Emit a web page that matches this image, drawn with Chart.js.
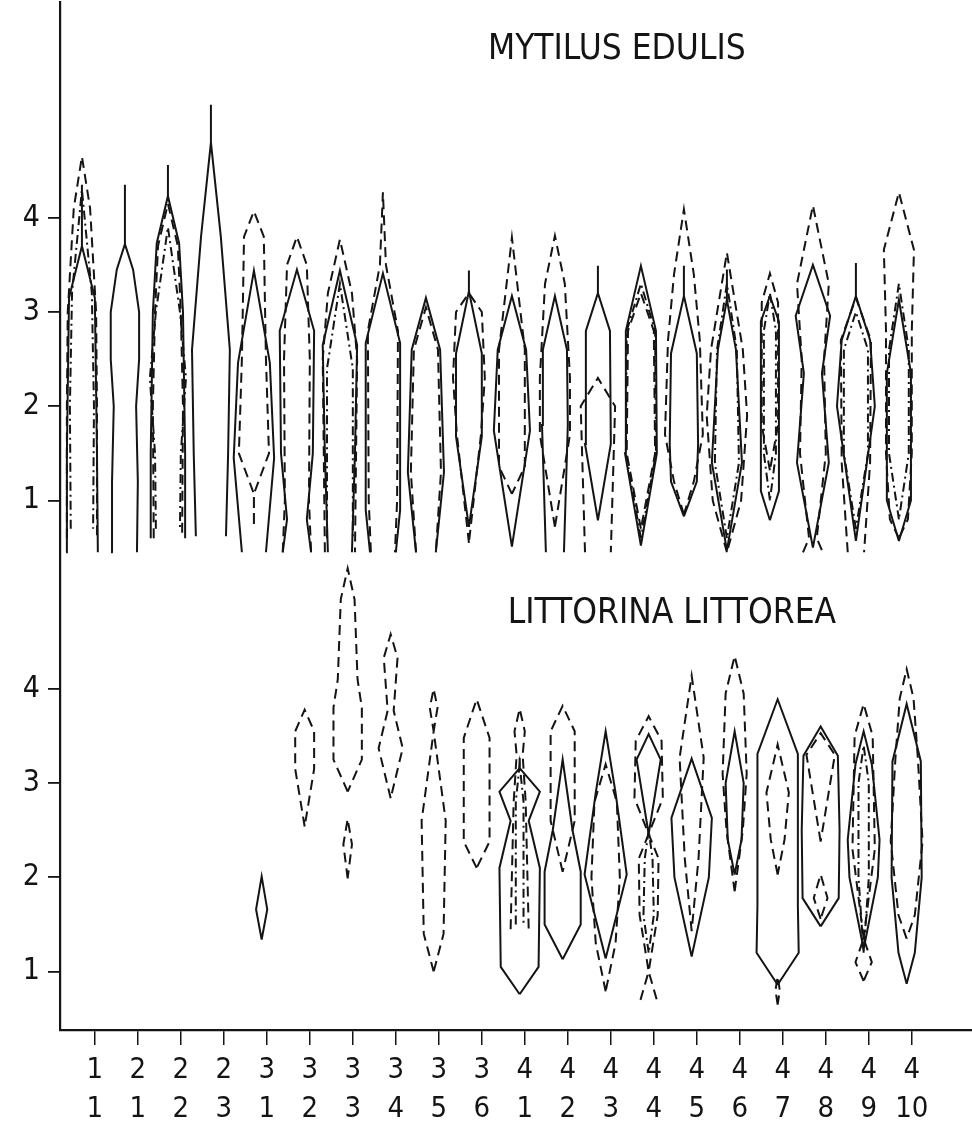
<!DOCTYPE html>
<html lang="en">
<head>
    <meta charset="UTF-8">
    <title>Kite diagrams: Mytilus edulis and Littorina littorea</title>
    <script src="https://cdn.jsdelivr.net/npm/chart.js"></script>
    <style>
        body { margin: 0; background: #fff; }
        #wrap { width: 972px; height: 1130px; }
    </style>
</head>
<body>
    <div id="wrap"><canvas id="kiteChart"></canvas></div>
    <script>
        // Station labels (two rows: transect / station)
        const siteLabels = [
            ['1', '1'], ['2', '1'], ['2', '2'], ['2', '3'], ['3', '1'],
            ['3', '2'], ['3', '3'], ['3', '4'], ['3', '5'], ['3', '6'],
            ['4', '1'], ['4', '2'], ['4', '3'], ['4', '4'], ['4', '5'],
            ['4', '6'], ['4', '7'], ['4', '8'], ['4', '9'], ['4', '10']
        ];
        const yTickValues = [1, 2, 3, 4];
        const panelTitles = ['MYTILUS EDULIS', 'LITTORINA LITTOREA'];

        // Each kite: [station number, [[level, half width], ...] from bottom to top]
        const mytilusSolid = [
            [1, [[0.45, .37], [1.5, .35], [3.15, .30], [3.7, 0], [4.35, 0]]],
            [2, [[0.45, .28], [1.2, .30], [2.0, .26], [2.5, .33], [3.0, .33], [3.45, .19], [3.72, 0], [4.35, 0]]],
            [3, [[0.6, .40], [1.5, .40], [3.0, .35], [3.73, .26], [4.23, 0], [4.56, 0]]],
            [4, [[0.62, .35], [1.5, .40], [2.6, .44], [3.8, .23], [4.8, 0], [5.2, 0]]],
            [5, [[0.45, .28], [1.45, .47], [2.46, .37], [3.44, 0]]],
            [6, [[0.45, .33], [0.8, .23], [1.5, .37], [2.8, .40], [3.45, 0]]],
            [7, [[0.45, .28], [1.5, .35], [2.65, .40], [3.44, 0]]],
            [8, [[0.45, .30], [0.9, .40], [2.67, .40], [3.41, 0]]],
            [9, [[0.45, .23], [1.3, .42], [2.6, .33], [3.15, 0]]],
            [10, [[0.72, 0], [1.68, .30], [2.56, .30], [3.22, 0], [3.44, 0]]],
            [11, [[0.51, 0], [1.74, .42], [2.6, .33], [3.17, 0]]],
            [12, [[0.45, .21], [1.8, .30], [2.6, .28], [3.17, 0]]],
            [13, [[0.79, 0], [1.6, .30], [2.8, .28], [3.2, 0], [3.49, 0]]],
            [14, [[0.52, 0], [1.5, .37], [2.8, .35], [3.49, 0]]],
            [15, [[0.83, 0], [1.2, .30], [1.6, .33], [2.56, .30], [3.17, 0], [3.49, 0]]],
            [16, [[0.47, 0], [1.4, .35], [2.6, .21], [3.13, 0], [3.45, 0]]],
            [17, [[0.79, 0], [1.1, .21], [2.9, .21], [3.17, 0]]],
            [18, [[0.5, 0], [1.4, .37], [2.35, .21], [2.96, .40], [3.5, 0]]],
            [19, [[0.57, 0], [2.0, .44], [2.7, .33], [3.17, 0], [3.52, 0]]],
            [20, [[0.57, 0], [1.0, .28], [2.35, .28], [3.13, 0]]]
        ];
        const mytilusDashed = [
            [1, [[0.6, .35], [2.0, .35], [3.0, .33], [4.1, .19], [4.65, 0]]],
            [3, [[0.6, .33], [2.0, .35], [3.0, .30], [3.7, .23], [4.15, 0]]],
            [5, [[0.75, 0], [1.07, 0], [1.5, .35], [2.5, .28], [3.0, .26], [3.8, .23], [4.07, 0]]],
            [6, [[0.45, .33], [1.0, .28], [2.5, .30], [3.5, .23], [3.8, 0]]],
            [7, [[0.45, .35], [2.5, .40], [3.2, .28], [3.77, 0]]],
            [8, [[0.45, .28], [1.0, .33], [2.8, .35], [3.5, .07], [4.27, 0]]],
            [9, [[0.45, .23], [1.3, .35], [2.6, .28], [3.05, 0]]],
            [10, [[0.55, 0], [1.7, .28], [2.3, .37], [3.0, .30], [3.2, 0]]],
            [11, [[1.07, 0], [1.36, .30], [2.6, .30], [3.79, 0]]],
            [12, [[0.72, 0], [1.7, .35], [2.3, .35], [3.3, .23], [3.81, 0]]],
            [13, [[0.45, .30], [2.0, .40], [2.3, 0]]],
            [14, [[0.7, 0], [1.5, .33], [2.8, .30], [3.2, 0]]],
            [15, [[0.85, 0], [1.2, .23], [1.7, .44], [2.7, .37], [3.4, .23], [4.09, 0]]],
            [16, [[0.45, 0], [1.0, .33], [1.9, .47], [2.6, .37], [3.63, 0]]],
            [17, [[1.32, 0], [1.8, .19], [3.1, .19], [3.41, 0]]],
            [18, [[0.45, .23], [0.6, .09], [1.5, .30], [2.5, .26], [3.3, .37], [4.13, 0]]],
            [19, [[0.45, .19], [1.4, .33], [2.7, .35], [3.15, 0]]],
            [20, [[0.6, 0], [0.8, .21], [1.5, .30], [2.8, .30], [3.66, .35], [4.27, 0]]]
        ];
        const mytilusDashDot = [
            [1, [[0.7, .26], [2.0, .28], [3.2, .23], [4.3, 0]]],
            [3, [[0.7, .28], [1.5, .30], [2.3, .42], [3.0, .28], [3.9, 0]]],
            [7, [[0.6, .30], [2.4, .30], [3.3, 0]]],
            [14, [[0.6, 0], [1.5, .35], [2.8, .33], [3.3, 0]]],
            [16, [[0.6, 0], [1.4, .28], [2.6, .23], [3.3, 0]]],
            [17, [[1.0, 0], [1.5, .14], [2.8, .14], [3.2, 0]]],
            [19, [[0.7, 0], [1.5, .28], [2.6, .28], [3.0, 0]]],
            [20, [[0.8, 0], [1.5, .23], [2.6, .23], [3.3, 0]]]
        ];
        const littorinaSolid = [
            [5, [[1.34, 0], [1.66, .13], [2.01, 0]]],
            [11, [[0.76, 0], [1.05, .44], [2.1, .47], [2.6, .21], [2.91, .47], [3.16, 0], [3.27, 0]]],
            [12, [[1.13, 0], [1.5, .42], [2.06, .42], [2.5, .23], [3.25, 0]]],
            [13, [[1.14, 0], [2.03, .49], [2.9, .23], [3.55, 0]]],
            [14, [[2.46, 0], [3.25, .28], [3.52, 0]]],
            [15, [[1.16, 0], [2.0, .40], [2.63, .47], [3.26, 0]]],
            [16, [[2.03, 0], [2.4, .16], [3.0, .21], [3.55, 0]]],
            [17, [[0.86, 0], [1.2, .49], [1.7, .47], [3.31, .47], [3.89, 0]]],
            [18, [[1.48, 0], [1.78, .42], [2.5, .44], [3.29, .40], [3.6, 0]]],
            [19, [[1.24, 0], [2.0, .33], [2.4, .37], [3.2, .19], [3.55, 0]]],
            [20, [[0.87, 0], [1.2, .19], [2.0, .35], [3.23, .33], [3.84, 0]]]
        ];
        const littorinaDashed = [
            [6, [[2.54, 0], [3.15, .22], [3.55, .22], [3.78, 0]]],
            [7, [[2.91, 0], [3.25, .33], [3.8, .33], [4.1, .23], [4.95, .16], [5.28, 0]]],
            [7, [[1.99, 0], [2.35, .10], [2.62, 0]]],
            [8, [[2.84, 0], [3.37, .28], [3.77, .07], [4.33, .16], [4.58, 0]]],
            [9, [[1.0, 0], [1.4, .23], [2.6, .28], [3.55, 0], [3.8, .09], [4.0, 0]]],
            [10, [[2.1, 0], [2.38, .30], [3.48, .30], [3.89, 0]]],
            [11, [[1.45, .21], [2.8, .14], [3.3, .07], [3.55, .12], [3.79, 0]]],
            [12, [[2.06, 0], [2.6, .28], [3.55, .28], [3.82, 0]]],
            [13, [[0.79, 0], [1.3, .23], [2.0, .33], [2.8, .26], [3.2, 0]]],
            [14, [[0.7, .19], [1.0, 0], [1.6, .21], [2.2, .23], [2.46, 0], [2.84, .33], [3.45, .30], [3.71, 0]]],
            [15, [[1.43, 0], [2.2, .16], [3.27, .28], [4.14, 0]]],
            [16, [[1.85, 0], [2.5, .19], [3.1, .28], [3.95, .21], [4.35, 0]]],
            [17, [[2.03, 0], [2.4, .16], [2.9, .26], [3.41, 0]]],
            [17, [[0.65, 0], [0.8, .05], [0.95, 0]]],
            [18, [[2.38, 0], [3.3, .33], [3.53, 0]]],
            [18, [[1.56, 0], [1.78, .16], [2.03, 0]]],
            [19, [[1.35, 0], [2.3, .26], [3.5, .21], [3.84, 0]]],
            [19, [[0.9, 0], [1.1, .19], [1.35, 0]]],
            [20, [[1.35, 0], [1.6, .19], [2.38, .37], [3.27, .26], [3.9, .16], [4.21, 0]]]
        ];
        const littorinaDashDot = [
            [11, [[1.5, .09], [2.8, .09], [3.2, 0]]],
            [14, [[1.2, 0], [1.6, .12], [2.2, .09], [2.5, 0]]],
            [19, [[1.2, 0], [2.0, .12], [3.0, .12], [3.4, 0]]]
        ];

        // upper panel sits 5 units above the lower one on a shared axis
        const TOP_OFFSET = 5;
        // the scanned original is slightly rotated, so kites sit left of their ticks
        const TOP_SHIFT = -0.30;
        const BOTTOM_SHIFT = -0.12;

        const INK = '#141414';
        const FONT = '"DejaVu Sans Condensed", "DejaVu Sans", sans-serif';
        const DASH = [10, 6];
        const DASH_DOT = [9, 4, 2, 4];

        function kitePoints(station, profile, shift, yOff) {
            const left = profile.map(([v, w]) => ({ x: station + shift - w, y: v + yOff }));
            const right = profile.slice().reverse().map(([v, w]) => ({ x: station + shift + w, y: v + yOff }));
            return left.concat(right);
        }

        function kiteSets(kites, dash, shift, yOff) {
            return kites.map(([station, profile]) => ({
                data: kitePoints(station, profile, shift, yOff),
                showLine: true,
                borderColor: INK,
                borderWidth: 2,
                borderDash: dash,
                pointRadius: 0,
                fill: false,
                tension: 0
            }));
        }

        const datasets = [].concat(
            kiteSets(mytilusSolid, [], TOP_SHIFT, TOP_OFFSET),
            kiteSets(mytilusDashed, DASH, TOP_SHIFT, TOP_OFFSET),
            kiteSets(mytilusDashDot, DASH_DOT, TOP_SHIFT, TOP_OFFSET),
            kiteSets(littorinaSolid, [], BOTTOM_SHIFT, 0),
            kiteSets(littorinaDashed, DASH, BOTTOM_SHIFT, 0),
            kiteSets(littorinaDashDot, DASH_DOT, BOTTOM_SHIFT, 0)
        );

        // Panel titles drawn inside the plot area
        const titlesPlugin = {
            id: 'panelTitles',
            afterDraw: (chart) => {
                const ctx = chart.ctx;
                const xs = chart.scales.x;
                const ys = chart.scales.y;
                const spots = [
                    { text: panelTitles[0], x: 13.14, y: 10.68, width: 255 },
                    { text: panelTitles[1], x: 14.42, y: 4.7, width: 323 }
                ];
                ctx.save();
                ctx.fillStyle = INK;
                ctx.textAlign = 'center';
                ctx.textBaseline = 'alphabetic';
                ctx.font = '35px ' + FONT;
                spots.forEach(s => {
                    ctx.letterSpacing = '0px';
                    const base = ctx.measureText(s.text).width;
                    const gap = Math.max(0, (s.width - base) / (s.text.length - 1));
                    ctx.letterSpacing = gap.toFixed(2) + 'px';
                    ctx.fillText(s.text, xs.getPixelForValue(s.x) + gap / 2, ys.getPixelForValue(s.y));
                });
                ctx.restore();
            }
        };

        new Chart(document.getElementById('kiteChart'), {
            type: 'scatter',
            data: { datasets: datasets },
            options: {
                responsive: true,
                maintainAspectRatio: false,
                animation: false,
                layout: { padding: { top: 2, right: 0, left: 0, bottom: 0 } },
                plugins: {
                    legend: { display: false },
                    tooltip: { enabled: false }
                },
                scales: {
                    x: {
                        type: 'linear',
                        min: 0.19,
                        max: 21.4,
                        afterBuildTicks: (scale) => {
                            scale.ticks = siteLabels.map((_, i) => ({ value: i + 1 }));
                        },
                        afterFit: (scale) => {
                            scale.height = 100;
                            scale.paddingLeft = 0;
                            scale.paddingRight = 0;
                        },
                        ticks: {
                            autoSkip: false,
                            maxRotation: 0,
                            padding: 6,
                            color: INK,
                            font: { family: FONT, size: 29, lineHeight: 1.35 },
                            callback: (value, index) => siteLabels[index]
                        },
                        grid: {
                            display: true,
                            drawOnChartArea: false,
                            drawTicks: true,
                            tickLength: 15,
                            color: INK,
                            lineWidth: 1.5
                        },
                        border: { display: true, color: INK, width: 2.2 }
                    },
                    y: {
                        type: 'linear',
                        min: 0.38,
                        max: 11.29,
                        afterBuildTicks: (scale) => {
                            const vals = yTickValues.concat(yTickValues.map(v => v + TOP_OFFSET));
                            scale.ticks = vals.map(v => ({ value: v }));
                        },
                        afterFit: (scale) => {
                            scale.width = 60;
                            scale.paddingTop = 0;
                            scale.paddingBottom = 0;
                        },
                        ticks: {
                            padding: 8,
                            color: INK,
                            font: { family: FONT, size: 30 },
                            callback: (value) => String(value > TOP_OFFSET ? value - TOP_OFFSET : value)
                        },
                        grid: {
                            display: true,
                            drawOnChartArea: false,
                            drawTicks: true,
                            tickLength: 12,
                            color: INK,
                            lineWidth: 1.8
                        },
                        border: { display: true, color: INK, width: 2.2 }
                    }
                }
            },
            plugins: [titlesPlugin]
        });
    </script>
</body>
</html>
